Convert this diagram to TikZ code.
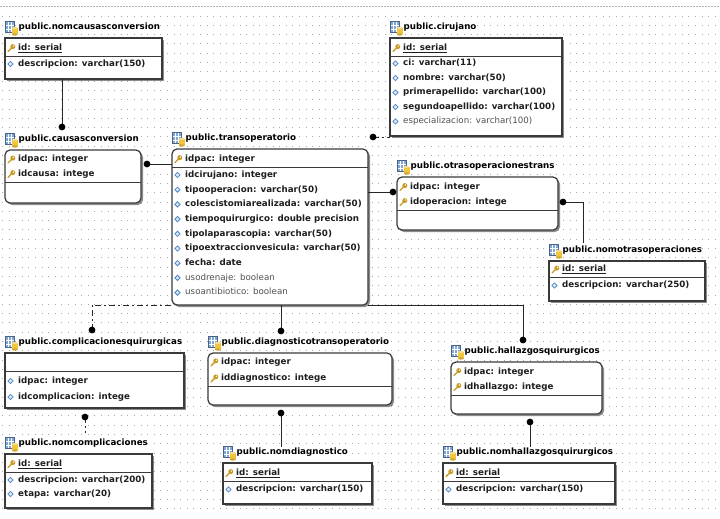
\documentclass[tikz,border=0pt]{standalone}
\usepackage{fontspec}
\setmainfont{DejaVu Sans}
\usetikzlibrary{shadows}
\definecolor{boxc}{HTML}{3A3A3A}
\definecolor{txtb}{HTML}{1E1E1E}
\definecolor{txtr}{HTML}{505050}
\definecolor{icoblue}{HTML}{7EA6D6}
\definecolor{icoyel}{HTML}{F2C53D}
\definecolor{keyc}{HTML}{C99A22}
\definecolor{diac}{HTML}{4F86C6}
\definecolor{diafill}{HTML}{DCE8F7}
\definecolor{gridc}{HTML}{A8A8A8}
\newcommand\myfs{\fontsize{8.7}{10.4}\selectfont}
\newcommand\tblicon{%
 \fill[icoblue] (0.5,-6.5) rectangle (9.5,5);
 \draw[white,line width=0.5pt] (0.5,-2.5) -- (9.5,-2.5) (0.5,1.3) -- (9.5,1.3) (3.5,-6.5) -- (3.5,5) (6.5,-6.5) -- (6.5,5);
 \draw[icoblue!60!black,line width=0.4pt] (0.5,-6.5) rectangle (9.5,5);
 \fill[icoyel] (7,0.5) rectangle (12.5,7);
 \fill[icoyel!85!black] (9.75,7) ellipse (2.75pt and 1.2pt);
 \fill[icoyel!60!white] (9.75,0.5) ellipse (2.75pt and 1.2pt);
}
\newcommand\tbl[7]{%
 \pgfmathsetmacro\tw{#4-#2}\pgfmathsetmacro\th{#5-#3}%
 \node[tbox,#7,minimum width=\tw pt,minimum height=\th pt,anchor=north west] (#1) at (#2,#3) {};
 \begin{scope}[shift={(#2,#3-10.5)}]\tblicon\node[ttl] (#1t) at (13.5,0) {#6};\end{scope}}
\newcommand\rowk[5]{\begin{scope}[shift={(#2,#3)}]%
 \draw[keyc,line width=1.4pt,line cap=round] (3,3.5) -- (6.5,0);
 \fill[keyc] (7.8,-1.4) circle (2.5pt);
 \fill[white] (8.4,-2) circle (0.8pt);
 \node[rowtxt,#5] (#1) at (13,0) {#4};\end{scope}}
\newcommand\rowd[5]{\begin{scope}[shift={(#2,#3)}]%
 \draw[diac,fill=diafill,line width=0.8pt] (5.5,-2.6) -- (8.1,0) -- (5.5,2.6) -- (2.9,0) -- cycle;
 \node[rowtxt,#5] (#1) at (13,0) {#4};\end{scope}}
\newcommand\divl[2]{\coordinate (tmp) at (0,#2);\draw[divs] (#1.west |- tmp) -- (#1.east |- tmp);}
\newcommand\dotat[1]{\fill[black] (#1) circle (3.4pt);}
\begin{document}
\begin{tikzpicture}[x=1pt,y=-1pt,
 tbox/.style={draw=boxc,line width=1.2pt,fill=white,inner sep=0pt,outer sep=0pt,
   drop shadow={shadow xshift=2pt,shadow yshift=-2pt,fill=black!45,opacity=1}},
 rnd/.style={rounded corners=5pt},
 sq/.style={},
 ttl/.style={anchor=west,inner sep=0pt,font=\myfs\bfseries,text=black,text height=6.5pt,text depth=1.8pt},
 rowtxt/.style={anchor=west,inner sep=0pt,text height=6.5pt,text depth=1.8pt},
 rb/.style={font=\myfs\bfseries,text=txtb},
 rr/.style={font=\myfs,text=txtr},
 divs/.style={draw=boxc,line width=1pt},
 con/.style={draw=black!85,line width=1pt},
 dd/.style={dash pattern=on 6pt off 3pt on 2pt off 3pt},
 gridl/.style={draw=gridc,line width=0.9pt,dash pattern=on 0.9pt off 5.7pt}]
\useasboundingbox (0,0) rectangle (720,519);
\fill[white] (0,0) rectangle (720,519);
\draw[black!30,line width=1pt,dash pattern=on 2pt off 1pt] (0,7) -- (720,7);
\foreach \gy in {16,25.3,...,512} {\draw[gridl] (2,\gy) -- (720,\gy);}

% tables
\tbl{nc}{5}{38}{162}{79}{public.nomcausasconversion}{sq}
\rowk{nc1}{5}{48}{\underline{id: serial}}{rb}
\divl{nc}{56.5}
\rowd{nc2}{5}{64}{descripcion: varchar(150)}{rb}

\tbl{cc}{5}{150}{141}{203}{public.causasconversion}{rnd}
\rowk{cc1}{5}{159.5}{idpac: integer}{rb}
\rowk{cc2}{5}{174}{idcausa: intege}{rb}
\divl{cc}{182}

\tbl{tr}{172}{149}{368}{305}{public.transoperatorio}{rnd}
\rowk{tr1}{172}{159}{idpac: integer}{rb}
\divl{tr}{167}
\rowd{tr2}{172}{175}{idcirujano: integer}{rb}
\rowd{tr3}{172}{189.7}{tipooperacion: varchar(50)}{rb}
\rowd{tr4}{172}{204.4}{colescistomiarealizada: varchar(50)}{rb}
\rowd{tr5}{172}{219.1}{tiempoquirurgico: double precision}{rb}
\rowd{tr6}{172}{233.8}{tipolaparascopia: varchar(50)}{rb}
\rowd{tr7}{172}{248.5}{tipoextraccionvesicula: varchar(50)}{rb}
\rowd{tr8}{172}{263.2}{fecha: date}{rb}
\rowd{tr9}{172}{277.9}{usodrenaje: boolean}{rr}
\rowd{tr10}{172}{292.6}{usoantibiotico: boolean}{rr}

\tbl{ci}{390}{38}{562}{136}{public.cirujano}{sq}
\rowk{ci1}{390}{48}{\underline{id: serial}}{rb}
\divl{ci}{56.5}
\rowd{ci2}{390}{63.5}{ci: varchar(11)}{rb}
\rowd{ci3}{390}{78}{nombre: varchar(50)}{rb}
\rowd{ci4}{390}{92.5}{primerapellido: varchar(100)}{rb}
\rowd{ci5}{390}{107}{segundoapellido: varchar(100)}{rb}
\rowd{ci6}{390}{121.5}{especializacion: varchar(100)}{rr}

\tbl{ot}{397}{177}{558}{230}{public.otrasoperacionestrans}{rnd}
\rowk{ot1}{397}{187}{idpac: integer}{rb}
\rowk{ot2}{397}{202}{idoperacion: intege}{rb}
\divl{ot}{210}

\tbl{no}{549}{261}{705}{301}{public.nomotrasoperaciones}{sq}
\rowk{no1}{549}{269.5}{\underline{id: serial}}{rb}
\divl{no}{277}
\rowd{no2}{549}{285.5}{descripcion: varchar(250)}{rb}

\tbl{cq}{5}{353}{184}{408}{public.complicacionesquirurgicas}{sq}
\divl{cq}{371}
\rowd{cq1}{5}{381}{idpac: integer}{rb}
\rowd{cq2}{5}{397}{idcomplicacion: intege}{rb}

\tbl{nm}{5}{454}{152}{508}{public.nomcomplicaciones}{sq}
\rowk{nm1}{5}{464}{\underline{id: serial}}{rb}
\divl{nm}{472}
\rowd{nm2}{5}{480}{descripcion: varchar(200)}{rb}
\rowd{nm3}{5}{494}{etapa: varchar(20)}{rb}

\tbl{dt}{208}{353}{392}{405}{public.diagnosticotransoperatorio}{rnd}
\rowk{dt1}{208}{362.3}{idpac: integer}{rb}
\rowk{dt2}{208}{378.3}{iddiagnostico: intege}{rb}
\divl{dt}{386}

\tbl{nd}{223}{463}{372}{504}{public.nomdiagnostico}{sq}
\rowk{nd1}{223}{473}{\underline{id: serial}}{rb}
\divl{nd}{481.5}
\rowd{nd2}{223}{489.5}{descripcion: varchar(150)}{rb}

\tbl{hq}{451}{362}{602}{414}{public.hallazgosquirurgicos}{rnd}
\rowk{hq1}{451}{372}{idpac: integer}{rb}
\rowk{hq2}{451}{387}{idhallazgo: intege}{rb}
\divl{hq}{395}

\tbl{nh}{443}{463}{615}{504}{public.nomhallazgosquirurgicos}{sq}
\rowk{nh1}{443}{473}{\underline{id: serial}}{rb}
\divl{nh}{481.5}
\rowd{nh2}{443}{489.5}{descripcion: varchar(150)}{rb}

% connectors
\coordinate (p1) at (62,127);
\draw[con] (nc.south -| p1) -- (p1);
\coordinate (p2) at (147,164);
\draw[con] (p2) -- (p2 -| tr.west);
\coordinate (p3) at (373,137);
\draw[con,dd] (p3) -- (p3 -| ci.west);
\coordinate (p4) at (393,192);
\draw[con] (p4 -| tr.east) -- (p4);
\coordinate (p5) at (563,202);
\coordinate (q5) at (583,243);
\draw[con] (p5) -| (q5);
\coordinate (p6) at (92,330);
\draw[con,dd] (p6) |- (tr.south west);
\coordinate (p7) at (85,417);
\coordinate (q7) at (85,433);
\draw[con,dd] (p7) -- (q7);
\coordinate (p8) at (281,331);
\draw[con] (tr.south -| p8) -- (p8);
\coordinate (p9) at (281,413);
\coordinate (q9) at (281,447);
\draw[con] (p9) -- (q9);
\coordinate (p10) at (523,340);
\draw[con] (tr.south east) -| (p10);
\coordinate (p11) at (530,422);
\coordinate (q11) at (530,447);
\draw[con] (p11) -- (q11);
\foreach \p in {p1,p2,p3,p4,p5,p6,p7,p8,p9,p10,p11} {\dotat{\p}}
\end{tikzpicture}
\end{document}
